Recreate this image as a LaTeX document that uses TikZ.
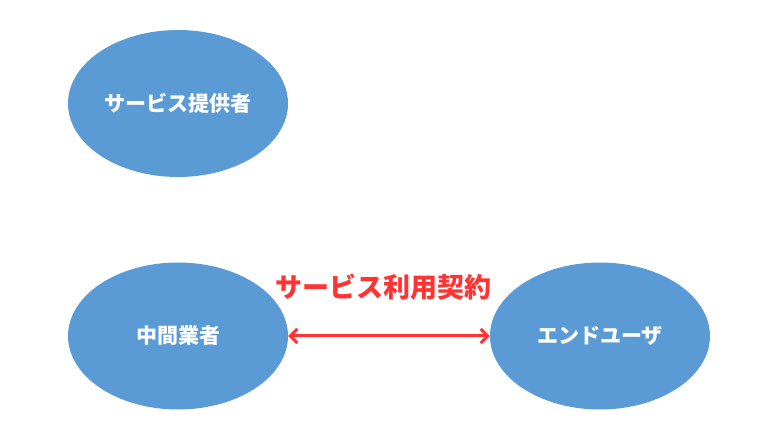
\documentclass[tikz,border=0pt]{standalone}
\usepackage{fontspec}
\newfontfamily\cjk{Noto Sans CJK JP}
\usepackage{tikz}
\usetikzlibrary{arrows.meta,positioning,shapes.geometric}
\definecolor{partyblue}{HTML}{5B9BD5}
\definecolor{contractred}{HTML}{FF3333}

\begin{document}
\begin{tikzpicture}[x=1pt, y=1pt,
        party/.style={ellipse, fill=partyblue, draw=none, minimum width=220pt, minimum height=147pt,
        inner sep=0pt, text=white, font=\cjk\bfseries\fontsize{21}{25}\selectfont},
        contract/.style={color=contractred, line width=3pt, line cap=round,
        arrows={Straight Barb[length=7pt,width=14pt,line width=3pt]-Straight Barb[length=7pt,width=14pt,line width=3pt]}},
        label text/.style={text=contractred, font=\cjk\bfseries\fontsize{27}{32}\selectfont}]
        \useasboundingbox (0,0) rectangle (768,436);
        \node [party] (provider) at (178,332.5) {サービス提供者};
        \node [party] (broker) at (178,100) {中間業者};
        \node [party] (user) at (600,100) {エンドユーザ};
        \draw [contract] (broker.east) -- (user.west);
        \node [label text] (contractlabel) at (383,149) {サービス利用契約};
    \end{tikzpicture}
\end{document}
